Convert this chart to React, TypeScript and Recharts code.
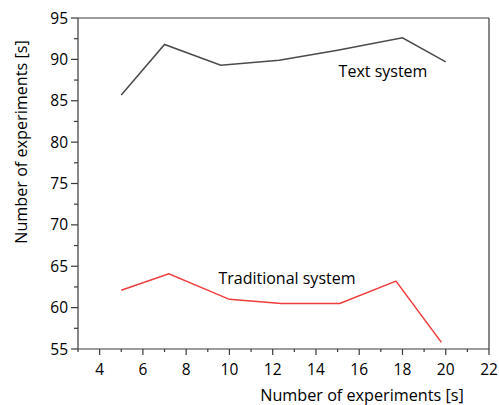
import React from "react";
import {
  LineChart,
  Line,
  XAxis,
  YAxis,
  ReferenceLine,
  ReferenceDot,
} from "recharts";

const textSystemX = [5, 7, 9.6, 12.3, 15, 18, 20];
const textSystemY = [85.7, 91.8, 89.3, 89.9, 91.1, 92.6, 89.7];
const tradSystemX = [5, 7.2, 10, 12.4, 15.1, 17.7, 19.8];
const tradSystemY = [62.1, 64.1, 61.0, 60.5, 60.5, 63.2, 55.8];

const xTicks = [3, 4, 5, 6, 7, 8, 9, 10, 11, 12, 13, 14, 15, 16, 17, 18, 19, 20, 21, 22];
const yTicks = [55, 57.5, 60, 62.5, 65, 67.5, 70, 72.5, 75, 77.5, 80, 82.5, 85, 87.5, 90, 92.5, 95];

const textData = textSystemX.map((x, i) => ({ x, y: textSystemY[i] }));
const tradData = tradSystemX.map((x, i) => ({ x, y: tradSystemY[i] }));

const FONT = "'Open Sans', 'Noto Sans', sans-serif";
const AXIS = "#3a3a3a";
const INK = "#000";

const XTick = (props: any) => {
  const { x, y, payload } = props;
  const major = payload.value % 2 === 0;
  return (
    <g>
      <line x1={x} x2={x} y1={y} y2={y + (major ? 6 : 3)} stroke={AXIS} strokeWidth={1.2} />
      {major && (
        <text x={x} y={y + 26} textAnchor="middle" fontSize={15.5} fontFamily={FONT} fill={INK}>
          {payload.value}
        </text>
      )}
    </g>
  );
};

const YTick = (props: any) => {
  const { x, y, payload } = props;
  const major = payload.value % 5 === 0;
  return (
    <g>
      <line x1={x} x2={x - (major ? 7 : 4)} y1={y} y2={y} stroke={AXIS} strokeWidth={1.2} />
      {major && (
        <text x={x - 10} y={y + 5.5} textAnchor="end" fontSize={15.5} fontFamily={FONT} fill={INK}>
          {payload.value}
        </text>
      )}
    </g>
  );
};

export default function App() {
  return (
    <div style={{ position: "absolute", left: 0, top: 0, background: "#fff" }}>
      <LineChart width={499} height={405} margin={{ top: 18, right: 10, left: 0, bottom: 0 }}>
        <XAxis
          type="number"
          dataKey="x"
          domain={[3, 22]}
          ticks={xTicks}
          interval={0}
          height={56}
          tickSize={0}
          tickMargin={0}
          tickLine={false}
          tick={<XTick />}
          axisLine={{ stroke: AXIS, strokeWidth: 1.2 }}
          allowDuplicatedCategory={false}
          label={{
            content: () => (
              <text x={362} y={401} textAnchor="middle" fontSize={16.2} fontFamily={FONT} fill={INK}>
                Number of experiments [s]
              </text>
            ),
          }}
        />
        <YAxis
          type="number"
          dataKey="y"
          domain={[55, 95]}
          ticks={yTicks}
          interval={0}
          width={78}
          tickSize={0}
          tickMargin={0}
          tickLine={false}
          tick={<YTick />}
          axisLine={{ stroke: AXIS, strokeWidth: 1.2 }}
          label={{
            content: () => (
              <text
                x={27}
                y={142}
                transform="rotate(-90 27 142)"
                textAnchor="middle"
                fontSize={16.2}
                fontFamily={FONT}
                fill={INK}
              >
                Number of experiments [s]
              </text>
            ),
          }}
        />
        <ReferenceLine y={95} stroke={AXIS} strokeWidth={1.2} />
        <ReferenceLine x={22} stroke={AXIS} strokeWidth={1.2} />
        <Line
          data={textData}
          dataKey="y"
          type="linear"
          stroke="#4a4a4a"
          strokeWidth={1.5}
          dot={false}
          isAnimationActive={false}
        />
        <Line
          data={tradData}
          dataKey="y"
          type="linear"
          stroke="#ee3b3b"
          strokeWidth={1.5}
          dot={false}
          isAnimationActive={false}
        />
        <ReferenceDot
          x={17.1}
          y={88.5}
          r={0}
          label={{ value: "Text system", position: "center", fontSize: 16, fontFamily: FONT, fill: INK }}
        />
        <ReferenceDot
          x={12.66}
          y={63.5}
          r={0}
          label={{ value: "Traditional system", position: "center", fontSize: 16, fontFamily: FONT, fill: INK }}
        />
      </LineChart>
    </div>
  );
}
